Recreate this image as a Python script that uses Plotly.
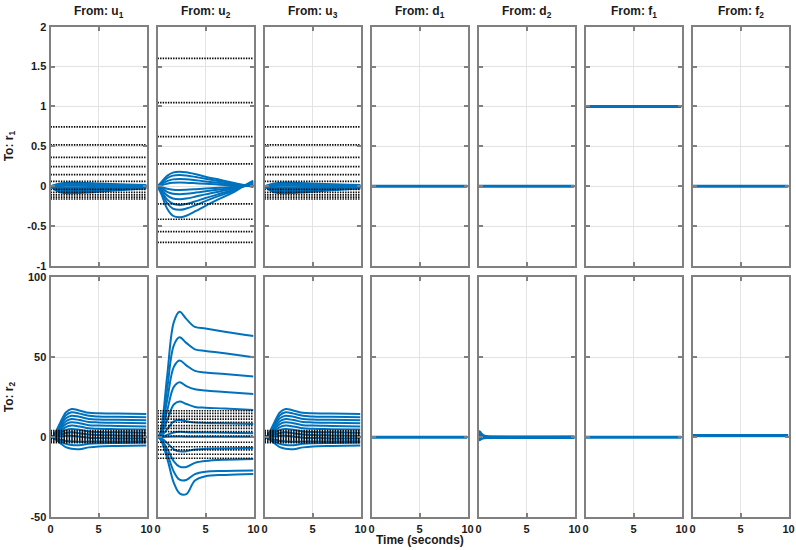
import plotly.graph_objects as go

# ---------------- data ----------------
inputs = ["u<sub>1</sub>", "u<sub>2</sub>", "u<sub>3</sub>", "d<sub>1</sub>", "d<sub>2</sub>", "f<sub>1</sub>", "f<sub>2</sub>"]
outputs = ["r<sub>1</sub>", "r<sub>2</sub>"]

x_ticks = [0, 5, 10]
x_ticktext = ["0", "5", "10"]
y1_ticks = [-1, -0.5, 0, 0.5, 1, 1.5, 2]
y1_ticktext = ["-1", "-0.5", "0", "0.5", "1", "1.5", "2"]
y2_ticks = [-50, 0, 50, 100]
y2_ticktext = ["-50", "0", "50", "100"]

# u1 -> r1 (same for u3 -> r1)
t_u1r1 = [0, 0.5, 1, 2, 3, 5, 7, 10]
u1r1_curves = [
    [0, 0.020, 0.035, 0.045, 0.044, 0.035, 0.025, 0.015],
    [0, 0.014, 0.025, 0.032, 0.031, 0.025, 0.018, 0.010],
    [0, 0.008, 0.014, 0.018, 0.017, 0.014, 0.010, 0.006],
    [0, 0.001, 0.003, 0.005, 0.005, 0.004, 0.003, 0.002],
    [0, -0.008, -0.013, -0.016, -0.016, -0.013, -0.009, -0.005],
    [0, -0.018, -0.030, -0.035, -0.034, -0.028, -0.020, -0.011],
    [0, -0.028, -0.045, -0.053, -0.051, -0.042, -0.030, -0.017],
    [0, -0.038, -0.061, -0.071, -0.069, -0.056, -0.040, -0.022],
    [0, -0.046, -0.075, -0.088, -0.085, -0.070, -0.050, -0.027],
]
u1r1_ss = [0.743, 0.518, 0.363, 0.246, 0.145, 0.062, -0.040, -0.078, -0.108, -0.136, -0.160]

# u2 -> r1
t_u2r1 = [0, 0.4, 1.0, 1.6, 2.3, 3.0, 4.0, 5.0, 6.5, 8.0, 9.0, 10]
u2r1_curves = [
    [0, 0.050, 0.130, 0.170, 0.183, 0.175, 0.150, 0.120, 0.080, 0.040, 0.015, -0.010],
    [0, 0.040, 0.100, 0.133, 0.142, 0.135, 0.115, 0.093, 0.062, 0.031, 0.012, -0.005],
    [0, 0.025, 0.065, 0.086, 0.092, 0.088, 0.075, 0.060, 0.040, 0.020, 0.008, 0.000],
    [0, 0.012, 0.032, 0.043, 0.046, 0.044, 0.037, 0.030, 0.020, 0.010, 0.005, 0.005],
    [0, -0.012, -0.032, -0.043, -0.046, -0.044, -0.037, -0.029, -0.018, -0.008, 0.000, 0.015],
    [0, -0.025, -0.070, -0.094, -0.100, -0.095, -0.080, -0.063, -0.040, -0.018, 0.000, 0.025],
    [0, -0.040, -0.115, -0.153, -0.163, -0.155, -0.130, -0.102, -0.065, -0.030, 0.002, 0.035],
    [0, -0.060, -0.165, -0.220, -0.234, -0.222, -0.187, -0.147, -0.094, -0.043, 0.003, 0.045],
    [0, -0.075, -0.210, -0.280, -0.296, -0.280, -0.236, -0.186, -0.118, -0.054, 0.004, 0.055],
    [0, -0.100, -0.280, -0.370, -0.390, -0.370, -0.310, -0.245, -0.156, -0.070, 0.005, 0.070],
]
u2r1_ss = [1.604, 1.048, 0.622, 0.280, -0.222, -0.414, -0.569, -0.705]

# u1 -> r2 (same for u3 -> r2)
t_u1r2 = [0, 0.3, 1.0, 1.6, 2.2, 3.0, 4.0, 5.0, 7.0, 10.0]
u1r2_curves = [
    [0, 1.0, 9.0, 15.5, 17.7, 16.8, 15.3, 15.0, 14.8, 14.5],
    [0, 0.9, 8.0, 13.7, 15.6, 14.8, 13.4, 13.0, 12.8, 12.5],
    [0, 0.8, 7.0, 11.9, 13.5, 12.8, 11.5, 11.1, 10.9, 10.6],
    [0, 0.7, 5.8, 10.0, 11.4, 10.8, 9.6, 9.3, 9.1, 8.8],
    [0, 0.5, 4.8, 8.3, 9.4, 8.8, 7.6, 7.3, 7.1, 6.8],
    [0, 0.4, 3.7, 6.4, 7.3, 6.8, 5.6, 5.3, 5.1, 4.8],
    [0, 0.3, 2.6, 4.6, 5.2, 4.7, 3.6, 3.3, 3.1, 2.8],
    [0, 0.2, 1.5, 2.7, 3.1, 2.6, 1.7, 1.4, 1.2, 1.0],
    [0, 0.1, 0.5, 0.9, 1.0, 0.5, -0.3, -0.5, -0.7, -0.8],
    [0, -0.2, -1.3, -2.3, -2.7, -2.8, -2.7, -2.6, -2.6, -2.5],
    [0, -0.3, -2.3, -4.1, -4.8, -4.9, -4.1, -3.7, -3.5, -3.3],
    [0, -0.4, -3.5, -6.2, -7.2, -7.4, -6.3, -5.7, -5.4, -5.2],
]
u1r2_ss = [4.2, 3.2, 2.2, 1.2, 0.3, -0.7, -1.6, -2.5, -3.4]

# u2 -> r2
t_u2r2 = [0, 0.3, 1.0, 1.7, 2.3, 3.0, 3.9, 5.0, 7.0, 10.0]
u2r2_curves = [
    [0, 3.0, 38.0, 72.0, 78.5, 74.0, 69.0, 68.0, 66.0, 63.3],
    [0, 2.5, 30.0, 57.5, 62.5, 59.0, 55.0, 54.0, 52.5, 50.0],
    [0, 2.0, 23.0, 44.0, 48.0, 45.0, 41.5, 40.5, 39.5, 38.0],
    [0, 1.5, 16.5, 31.5, 34.4, 32.0, 30.0, 29.2, 28.3, 27.0],
    [0, 1.0, 10.5, 20.5, 22.3, 20.8, 19.0, 18.5, 18.0, 17.0],
    [0, 0.5, 5.0, 10.0, 10.8, 10.0, 9.2, 9.0, 8.8, 8.3],
    [0, 0.2, 1.5, 3.0, 3.5, 3.2, 3.0, 3.0, 2.8, 2.6],
    [0, 0.0, 0.3, 0.5, 0.5, 0.4, 0.3, 0.3, 0.3, 0.3],
    [0, -0.3, -3.5, -7.5, -8.8, -8.7, -7.6, -7.2, -7.0, -6.7],
    [0, -0.6, -7.0, -15.0, -18.3, -18.6, -16.0, -14.8, -14.0, -13.5],
    [0, -0.9, -10.0, -21.5, -26.5, -26.7, -23.0, -21.5, -21.0, -20.7],
    [0, -1.2, -13.0, -28.5, -35.0, -35.5, -27.0, -24.3, -23.5, -23.0],
]
u2r2_ss = [16.6, 15.0, 13.1, 11.4, 9.4, 7.3, 5.6, 3.5, 0.8, -3.1, -5.9, -7.9, -10.6, -13.1]

# flat responses
t_flat = [0, 10]
d1r1 = [0, 0]
d2r1 = [0, 0]
f1r1 = [1, 1]
f2r1 = [0, 0]
d1r2 = [0, 0]
f1r2 = [0, 0]
f2r2 = [1.2, 1.2]
t_d2r2 = [0, 0.1, 0.3, 0.6, 1.0, 2.0, 10]
d2r2_curves = [
    [0, 3.5, 2.0, 0.8, 0.3, 0.0, 0.0],
    [0, -1.5, -0.8, -0.3, -0.1, 0.0, 0.0],
    [0, 1.5, 0.8, 0.3, 0.1, 0.0, 0.0],
]

# ---------------- figure ----------------
BLUE = "#0072BD"
FRAME = "#808080"
GRID = "#e3e3e3"
FONT = "Liberation Sans"
W, H = 796, 550

col_left = [50.5 + 107 * i for i in range(7)]
col_w = 96
row_px = [(26.7, 266.0), (277.3, 517.3)]

panels = {
    (0, 0): ([(t_u1r1, c) for c in u1r1_curves], u1r1_ss, 2),
    (0, 1): ([(t_u2r1, c) for c in u2r1_curves], u2r1_ss, 2),
    (0, 2): ([(t_u1r1, c) for c in u1r1_curves], u1r1_ss, 2),
    (0, 3): ([(t_flat, d1r1)], [], 3),
    (0, 4): ([(t_flat, d2r1)], [], 3),
    (0, 5): ([(t_flat, f1r1)], [], 3),
    (0, 6): ([(t_flat, f2r1)], [], 3),
    (1, 0): ([(t_u1r2, c) for c in u1r2_curves], u1r2_ss, 2),
    (1, 1): ([(t_u2r2, c) for c in u2r2_curves], u2r2_ss, 2),
    (1, 2): ([(t_u1r2, c) for c in u1r2_curves], u1r2_ss, 2),
    (1, 3): ([(t_flat, d1r2)], [], 3),
    (1, 4): ([(t_d2r2, c) for c in d2r2_curves] + [(t_flat, [0, 0])], [], 3),
    (1, 5): ([(t_flat, f1r2)], [], 3),
    (1, 6): ([(t_flat, f2r2)], [], 3),
}

fig = go.Figure()
layout = {}
tickfont = dict(family=FONT, size=11, color="#1a1a1a", weight="bold")

for (r, c), (curves, ss, lw) in panels.items():
    n = r * 7 + c + 1
    xa = "x" if n == 1 else f"x{n}"
    ya = "y" if n == 1 else f"y{n}"
    for tt, yy in curves:
        fig.add_trace(go.Scatter(x=tt, y=yy, mode="lines", xaxis=xa, yaxis=ya,
                                 line=dict(color=BLUE, width=lw, shape="spline"),
                                 showlegend=False, hoverinfo="skip"))
    for v in ss:
        fig.add_trace(go.Scatter(x=[0, 10], y=[v, v], mode="lines", xaxis=xa, yaxis=ya,
                                 line=dict(color="black", width=1.7, dash="1.4px,1.2px"),
                                 showlegend=False, hoverinfo="skip"))
    top, bot = row_px[r]
    xdom = [col_left[c] / W, (col_left[c] + col_w) / W]
    ydom = [1 - bot / H, 1 - top / H]
    common = dict(showline=True, linecolor=FRAME, linewidth=2, mirror="ticks",
                  ticks="inside", ticklen=4, tickcolor=FRAME, tickwidth=1.5,
                  showgrid=True, gridcolor=GRID, gridwidth=1.2, zeroline=False,
                  tickfont=tickfont, automargin=False)
    layout["xaxis" if n == 1 else f"xaxis{n}"] = dict(
        domain=xdom, anchor=ya, range=[0, 10], tickvals=x_ticks, ticktext=x_ticktext,
        showticklabels=(r == 1), **common)
    layout["yaxis" if n == 1 else f"yaxis{n}"] = dict(
        domain=ydom, anchor=xa,
        range=[-1, 2] if r == 0 else [-50, 100],
        tickvals=y1_ticks if r == 0 else y2_ticks,
        ticktext=y1_ticktext if r == 0 else y2_ticktext,
        showticklabels=(c == 0), **common)

annotations = []
for c, name in enumerate(inputs):
    annotations.append(dict(text="From: " + name, x=(col_left[c] + col_w / 2) / W, y=1 - 12 / H,
                            xref="paper", yref="paper", showarrow=False, xanchor="center", yanchor="middle",
                            font=dict(family=FONT, size=12, color="#1a1a1a", weight="bold")))
for r, name in enumerate(outputs):
    top, bot = row_px[r]
    annotations.append(dict(text="To: " + name, x=10 / W, y=1 - (top + bot) / 2 / H,
                            xref="paper", yref="paper", showarrow=False, textangle=-90,
                            xanchor="center", yanchor="middle",
                            font=dict(family=FONT, size=12, color="#1a1a1a", weight="bold")))
annotations.append(dict(text="Time (seconds)", x=(col_left[0] + col_left[6] + col_w) / 2 / W, y=1 - 540 / H,
                        xref="paper", yref="paper", showarrow=False, xanchor="center", yanchor="middle",
                        font=dict(family=FONT, size=12, color="#1a1a1a", weight="bold")))

fig.update_layout(width=W, height=H, margin=dict(l=0, r=0, t=0, b=0, autoexpand=False),
                  paper_bgcolor="white", plot_bgcolor="white",
                  annotations=annotations, **layout)

fig.write_html("out.html", config={"displayModeBar": False},
               post_script="document.body.style.margin='0';document.body.style.overflow='hidden';")
